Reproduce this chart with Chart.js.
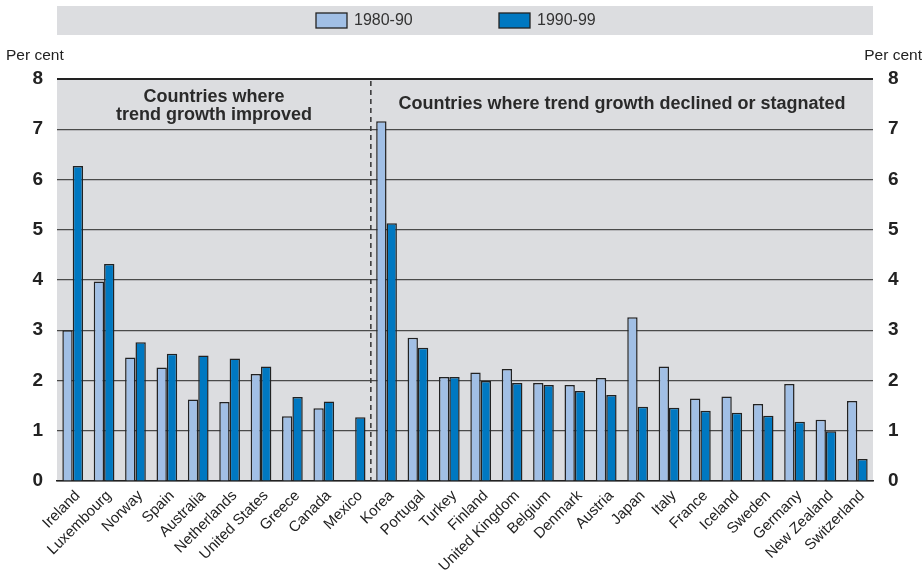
<!DOCTYPE html>
<html>
<head>
<meta charset="utf-8">
<script src="https://cdn.jsdelivr.net/npm/chart.js@4/dist/chart.umd.min.js"></script>
<style>
  html, body { margin: 0; padding: 0; background: #ffffff; }
  #wrap { width: 923px; height: 571px; position: relative; }
</style>
</head>
<body>
<div id="wrap"><canvas id="trendChart"></canvas></div>
<script>
// Datos
const countries = ['Ireland', 'Luxembourg', 'Norway', 'Spain', 'Australia', 'Netherlands', 'United States',
    'Greece', 'Canada', 'Mexico', 'Korea', 'Portugal', 'Turkey', 'Finland', 'United Kingdom', 'Belgium',
    'Denmark', 'Austria', 'Japan', 'Italy', 'France', 'Iceland', 'Sweden', 'Germany', 'New Zealand', 'Switzerland'];
const growth1980s = [3.0, 3.97, 2.46, 2.26, 1.62, 1.57, 2.13, 1.29, 1.45, null, 7.16, 2.85, 2.07, 2.16, 2.23, 1.95,
    1.91, 2.05, 3.26, 2.28, 1.64, 1.68, 1.53, 1.93, 1.22, 1.59];
const growth1990s = [6.27, 4.32, 2.76, 2.53, 2.50, 2.44, 2.28, 1.67, 1.58, 1.27, 5.13, 2.65, 2.07, 1.99, 1.95, 1.91,
    1.79, 1.71, 1.48, 1.46, 1.40, 1.36, 1.30, 1.18, 0.99, 0.44];
const seriesLabels = ['1980-90', '1990-99'];
const yTicks = [0, 1, 2, 3, 4, 5, 6, 7, 8];
const groupTitles = [['Countries where', 'trend growth improved'], ['Countries where trend growth declined or stagnated']];
const improvedCount = 10; // Ireland .. Mexico

const LIGHT = '#a1bfe5';
const DARK = '#0078c1';
const PANEL = '#dcdde0';
const TEXT = '#222222';
const narrowFont = "'Liberation Sans Narrow', 'Arial Narrow', 'Liberation Sans', Arial, sans-serif";
const sansFont = "'Liberation Sans', Arial, sans-serif";

// Fondo gris, leyenda, línea divisoria y títulos
const decorPlugin = {
    id: 'decor',
    beforeDraw(chart) {
        const { ctx, chartArea } = chart;
        ctx.save();
        ctx.fillStyle = PANEL;
        ctx.fillRect(chartArea.left, chartArea.top, chartArea.right - chartArea.left, chartArea.bottom - chartArea.top);
        // banda de la leyenda
        ctx.fillRect(chartArea.left, 6, chartArea.right - chartArea.left, 29);
        ctx.restore();
    },
    afterDatasetsDraw(chart) {
        const { ctx, chartArea, scales } = chart;
        const x = scales.x;
        const y = scales.y;
        ctx.save();

        // línea discontinua entre los dos grupos
        const splitX = (x.getPixelForTick(improvedCount - 1) + x.getPixelForTick(improvedCount)) / 2;
        ctx.strokeStyle = '#333';
        ctx.lineWidth = 1.5;
        ctx.setLineDash([5, 4]);
        ctx.beginPath();
        ctx.moveTo(splitX, chartArea.top + 2);
        ctx.lineTo(splitX, chartArea.bottom);
        ctx.stroke();
        ctx.setLineDash([]);

        // títulos de grupo
        ctx.fillStyle = '#2a2a2a';
        ctx.font = 'bold 18px ' + sansFont;
        ctx.textAlign = 'center';
        ctx.textBaseline = 'middle';
        const leftCenter = (x.getPixelForTick(0) + x.getPixelForTick(improvedCount - 1)) / 2;
        ctx.fillText(groupTitles[0][0], leftCenter, y.getPixelForValue(7.64));
        ctx.fillText(groupTitles[0][1], leftCenter, y.getPixelForValue(7.28));
        const rightCenter = (x.getPixelForTick(improvedCount) + x.getPixelForTick(countries.length - 1)) / 2;
        ctx.fillText(groupTitles[1][0], rightCenter, y.getPixelForValue(7.50));

        // "Per cent" a ambos lados
        ctx.fillStyle = TEXT;
        ctx.font = '15.5px ' + sansFont;
        ctx.textAlign = 'left';
        ctx.fillText('Per cent', 6, 56);
        ctx.textAlign = 'right';
        ctx.fillText('Per cent', 922, 56);

        // leyenda propia
        const boxes = [{ x: 316, color: chart.data.datasets[0].backgroundColor },
                       { x: 499, color: chart.data.datasets[1].backgroundColor }];
        ctx.font = '16px ' + sansFont;
        ctx.textAlign = 'left';
        boxes.forEach((b, i) => {
            ctx.fillStyle = b.color;
            ctx.fillRect(b.x, 13, 31, 15);
            ctx.strokeStyle = '#222';
            ctx.lineWidth = 1.3;
            ctx.strokeRect(b.x, 13, 31, 15);
            ctx.fillStyle = '#333';
            ctx.fillText(chart.data.datasets[i].label, b.x + 38, 21);
        });
        ctx.restore();
    }
};

const ctx = document.getElementById('trendChart').getContext('2d');
const trendChart = new Chart(ctx, {
    type: 'bar',
    data: {
        labels: countries,
        datasets: [{
            label: seriesLabels[0],
            data: growth1980s,
            backgroundColor: LIGHT, borderColor: '#222', borderWidth: 1.5,
            categoryPercentage: 0.66, barPercentage: 1,
        }, {
            label: seriesLabels[1],
            data: growth1990s,
            backgroundColor: DARK, borderColor: '#222', borderWidth: 1.5,
            categoryPercentage: 0.66, barPercentage: 1,
        }]
    },
    options: {
        responsive: true, maintainAspectRatio: false, animation: false,
        layout: { padding: { top: 79, left: 0, right: 0, bottom: 0 } },
        plugins: { legend: { display: false }, tooltip: { enabled: false } },
        scales: {
            x: {
                grid: { display: false },
                border: { color: '#222', width: 1.5 },
                ticks: {
                    color: TEXT, font: { family: sansFont, size: 15 },
                    minRotation: 45, maxRotation: 45, autoSkip: false, padding: -2, labelOffset: 5,
                },
                afterFit(scale) { scale.height = 90; },
            },
            y: {
                position: 'left', min: 0, max: 8,
                afterBuildTicks(scale) { scale.ticks = yTicks.map(v => ({ value: v })); },
                grid: {
                    drawTicks: false,
                    color: c => (c.tick.value === 8 || c.tick.value === 0) ? '#222' : '#4a4a4a',
                    lineWidth: c => c.tick.value === 8 ? 2 : 1.2,
                },
                border: { display: false },
                ticks: { color: TEXT, font: { family: narrowFont, size: 19, weight: 'bold' }, padding: 14 },
                afterFit(scale) { scale.width = 57; },
            },
            y2: {
                position: 'right', min: 0, max: 8,
                afterBuildTicks(scale) { scale.ticks = yTicks.map(v => ({ value: v })); },
                grid: { display: false, drawTicks: false },
                border: { display: false },
                ticks: { color: TEXT, font: { family: narrowFont, size: 19, weight: 'bold' }, padding: 15 },
                afterFit(scale) { scale.width = 50; },
            }
        }
    },
    plugins: [decorPlugin]
});
</script>
</body>
</html>
